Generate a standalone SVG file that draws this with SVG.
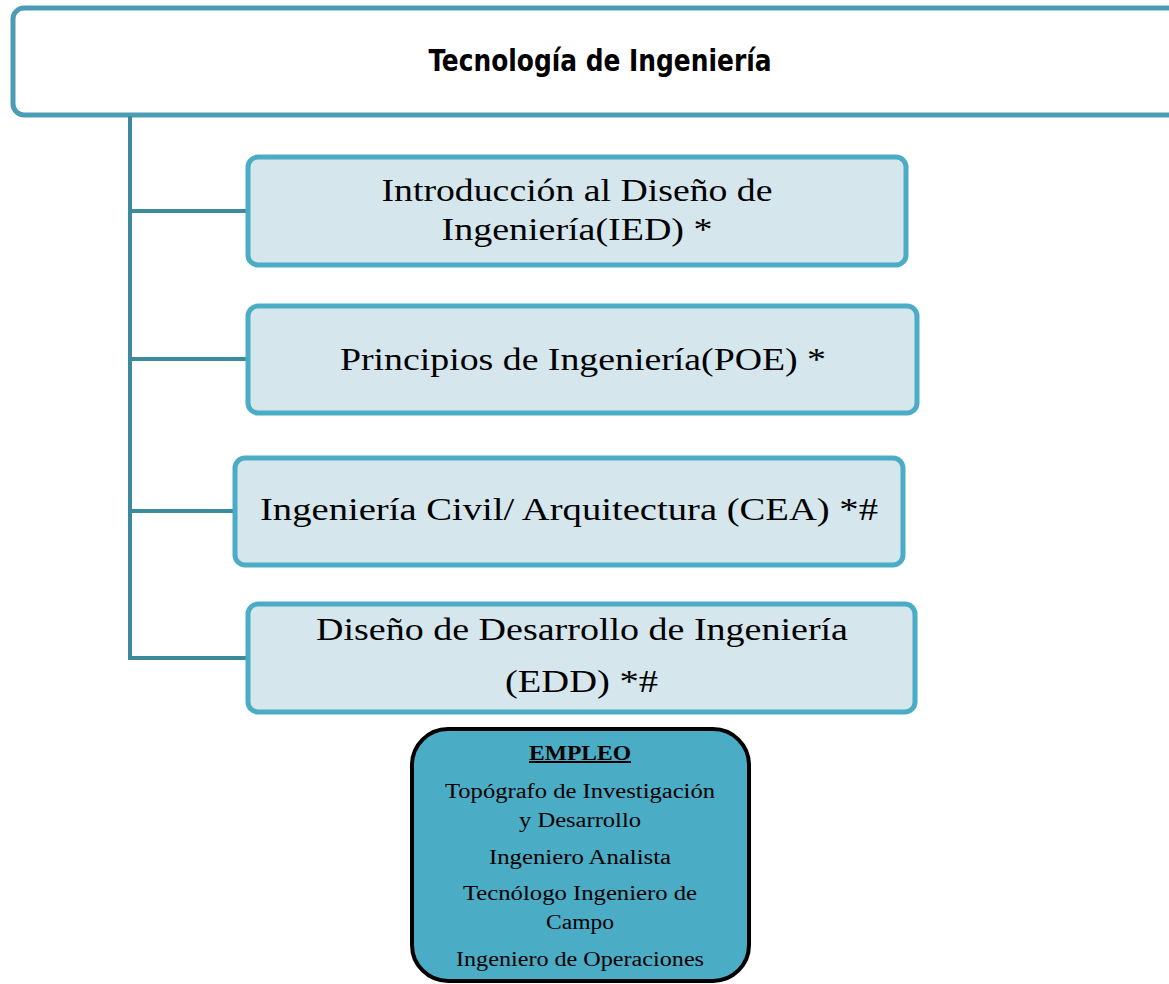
<svg xmlns="http://www.w3.org/2000/svg" width="1169" height="984" viewBox="0 0 1169 984">
<style>
.box{fill:#d5e6ed;stroke:#4bacc6;stroke-width:5}
.t{font-family:"Liberation Serif","DejaVu Serif",serif;font-size:31px;fill:#000;text-anchor:middle}
.e{font-family:"Liberation Serif","DejaVu Serif",serif;font-size:20px;fill:#000;text-anchor:middle}
.conn{stroke:#3d8a9e;stroke-width:4;fill:none}
</style>
<rect width="1169" height="984" fill="#fff"/>
<g id="root">
<rect x="13" y="8" width="1180" height="107" rx="11" fill="#fff" stroke="#4a9db5" stroke-width="5"/>
<text x="600" y="71" font-family="'DejaVu Sans Condensed','DejaVu Sans',sans-serif" font-weight="bold" font-size="30" text-anchor="middle" textLength="343" lengthAdjust="spacingAndGlyphs">Tecnología de Ingeniería</text>
</g>
<g id="connectors">
<path class="conn" d="M130 116 V658 H248"/>
<path class="conn" d="M130 211 H248"/>
<path class="conn" d="M130 359 H248"/>
<path class="conn" d="M130 511 H235"/>
</g>
<g id="ied">
<rect class="box" x="248" y="157" width="658" height="108" rx="10"/>
<text class="t" x="577" y="201" textLength="391" lengthAdjust="spacingAndGlyphs">Introducción al Diseño de</text>
<text class="t" x="577" y="240" textLength="271" lengthAdjust="spacingAndGlyphs">Ingeniería(IED) *</text>
</g>
<g id="poe">
<rect class="box" x="248" y="306" width="669" height="107" rx="10"/>
<text class="t" x="583" y="370" textLength="486" lengthAdjust="spacingAndGlyphs">Principios de Ingeniería(POE) *</text>
</g>
<g id="cea">
<rect class="box" x="235" y="458" width="668" height="107" rx="10"/>
<text class="t" x="569" y="520" textLength="618" lengthAdjust="spacingAndGlyphs">Ingeniería Civil/ Arquitectura (CEA) *#</text>
</g>
<g id="edd">
<rect class="box" x="248" y="604" width="667" height="108" rx="10"/>
<text class="t" x="582" y="640" textLength="532" lengthAdjust="spacingAndGlyphs">Diseño de Desarrollo de Ingeniería</text>
<text class="t" x="581.5" y="692" textLength="153" lengthAdjust="spacingAndGlyphs">(EDD) *#</text>
</g>
<g id="empleo">
<rect x="412" y="729" width="337" height="252" rx="36" fill="#4bacc6" stroke="#000" stroke-width="4"/>
<text class="e" x="580" y="760" font-weight="bold" text-decoration="underline" textLength="102" lengthAdjust="spacingAndGlyphs">EMPLEO</text>
<text class="e" x="580" y="798" textLength="270" lengthAdjust="spacingAndGlyphs">Topógrafo de Investigación</text>
<text class="e" x="580" y="827" textLength="122" lengthAdjust="spacingAndGlyphs">y Desarrollo</text>
<text class="e" x="580" y="864" textLength="182" lengthAdjust="spacingAndGlyphs">Ingeniero Analista</text>
<text class="e" x="580" y="900" textLength="234" lengthAdjust="spacingAndGlyphs">Tecnólogo Ingeniero de</text>
<text class="e" x="580" y="929" textLength="68" lengthAdjust="spacingAndGlyphs">Campo</text>
<text class="e" x="580" y="966" textLength="248" lengthAdjust="spacingAndGlyphs">Ingeniero de Operaciones</text>
</g>
</svg>
